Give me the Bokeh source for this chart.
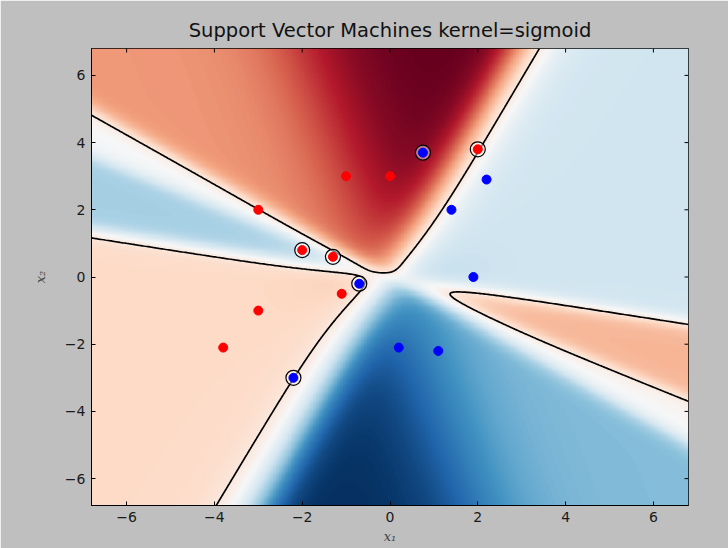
import numpy as np
from bokeh.plotting import figure
from bokeh.models import LinearColorMapper, FixedTicker, Range1d
from bokeh.embed import file_html
from bokeh.resources import INLINE

# data points (class red / class blue)
red_x = [-3.0, -1.0, 0.0, -2.0, -1.3, -1.1, -3.0, -3.8, 2.0]
red_y = [2.0, 3.0, 3.0, 0.8, 0.6, -0.5, -1.0, -2.1, 3.8]
blue_x = [0.75, 2.2, 1.4, 1.9, -0.7, 0.2, 1.1, -2.2]
blue_y = [3.7, 2.9, 2.0, 0.0, -0.2, -2.1, -2.2, -3.0]

# support vectors and their (estimated) dual coefficients for the sigmoid kernel
sv_x = [-2.0, -1.3, 2.0, 0.75, -0.7, -2.2]
sv_y = [0.8, 0.6, 3.8, 3.7, -0.2, -3.0]
dual_coef = [-0.453, -1.000, -0.392, 0.643, 0.694, 0.539]
intercept = 0.253
gamma = 1.0
coef0 = 0.0

ticks = [-6, -4, -2, 0, 2, 4, 6]
tick_labels = ["\u22126", "\u22124", "\u22122", "0", "2", "4", "6"]
lo, hi = -6.8, 6.8

# RdBu colormap (low = red, high = blue)
rdbu = ['#67001f', '#b2182b', '#d6604d', '#f4a582', '#fddbc7', '#f7f7f7',
        '#d1e5f0', '#92c5de', '#4393c3', '#2166ac', '#053061']
def interp_pal(cols, n=256):
    rgb = np.array([[int(c[1:3], 16), int(c[3:5], 16), int(c[5:7], 16)] for c in cols], float)
    t = np.linspace(0, 1, len(cols))
    tt = np.linspace(0, 1, n)
    return ['#%02x%02x%02x' % tuple(int(round(np.interp(v, t, rgb[:, k]))) for k in range(3)) for v in tt]
pal = interp_pal(rdbu)

# decision function on a grid
n = 400
xs = np.linspace(lo, hi, n)
XX, YY = np.meshgrid(xs, xs)
SV = np.c_[sv_x, sv_y]
P = np.c_[XX.ravel(), YY.ravel()]
Z = (np.tanh(gamma * P @ SV.T + coef0) @ np.array(dual_coef) + intercept).reshape(XX.shape)

W, H = 728, 548
BL, BR, BT, BB = 91, 40, 48, 43
p = figure(width=W, height=H, x_range=Range1d(lo, hi), y_range=Range1d(lo, hi),
           output_backend="svg", toolbar_location=None,
           min_border_left=BL, min_border_right=BR, min_border_top=BT, min_border_bottom=BB)
p.background_fill_color = "#bfbfbf"
p.border_fill_color = "#bfbfbf"
p.outline_line_color = "black"
p.outline_line_width = 1
p.grid.visible = False

p.title.text = "Support Vector Machines kernel=sigmoid"
p.title.align = "center"
p.title.text_font = "DejaVu Sans"
p.title.text_font_size = "19.5px"
p.title.text_font_style = "normal"
p.title.text_color = "#111111"
p.title.standoff = 14

cm = LinearColorMapper(palette=pal, low=float(Z.min()), high=float(Z.max()))
p.image(image=[Z], x=lo, y=lo, dw=hi - lo, dh=hi - lo, color_mapper=cm)
p.contour(xs, xs, Z, levels=[0.0], line_color="black", line_width=1.7)

p.scatter(sv_x, sv_y, size=15, fill_color="white", fill_alpha=0.45, line_color="black", line_width=1.2)
p.scatter(red_x, red_y, size=9, fill_color="red", line_color="red")
p.scatter(blue_x, blue_y, size=9, fill_color="blue", line_color="blue")

overrides = {t: l for t, l in zip(ticks, tick_labels)}
for ax in (p.xaxis[0], p.yaxis[0]):
    ax.ticker = FixedTicker(ticks=ticks)
    ax.major_label_overrides = overrides
    ax.major_tick_in = 4
    ax.major_tick_out = 0
    ax.minor_tick_in = 0
    ax.minor_tick_out = 0
    ax.major_tick_line_color = "black"
    ax.axis_line_color = "black"
    ax.major_label_text_font = "DejaVu Sans"
    ax.major_label_text_font_size = "14px"
    ax.major_label_text_color = "#1a1a1a"
    ax.axis_label_text_font = "DejaVu Serif"
    ax.axis_label_text_font_style = "italic"
    ax.axis_label_text_font_size = "13px"
    ax.axis_label_text_color = "#444444"
p.xaxis[0].axis_label = "x\u2081"
p.yaxis[0].axis_label = "x\u2082"
p.xaxis[0].major_label_standoff = 6
p.xaxis[0].axis_label_standoff = 4
p.yaxis[0].major_label_standoff = 6
p.yaxis[0].axis_label_standoff = 14

# inward tick marks on the top and right edges (matplotlib classic style)
tick_px = 4
tx = tick_px * (hi - lo) / (W - BL - BR)
ty = tick_px * (hi - lo) / (H - BT - BB)
p.segment(x0=ticks, y0=[hi] * len(ticks), x1=ticks, y1=[hi - ty] * len(ticks), line_color="black", line_width=1)
p.segment(x0=[hi] * len(ticks), y0=ticks, x1=[hi - tx] * len(ticks), y1=ticks, line_color="black", line_width=1)

open("out.html", "w").write(file_html(p, INLINE))
